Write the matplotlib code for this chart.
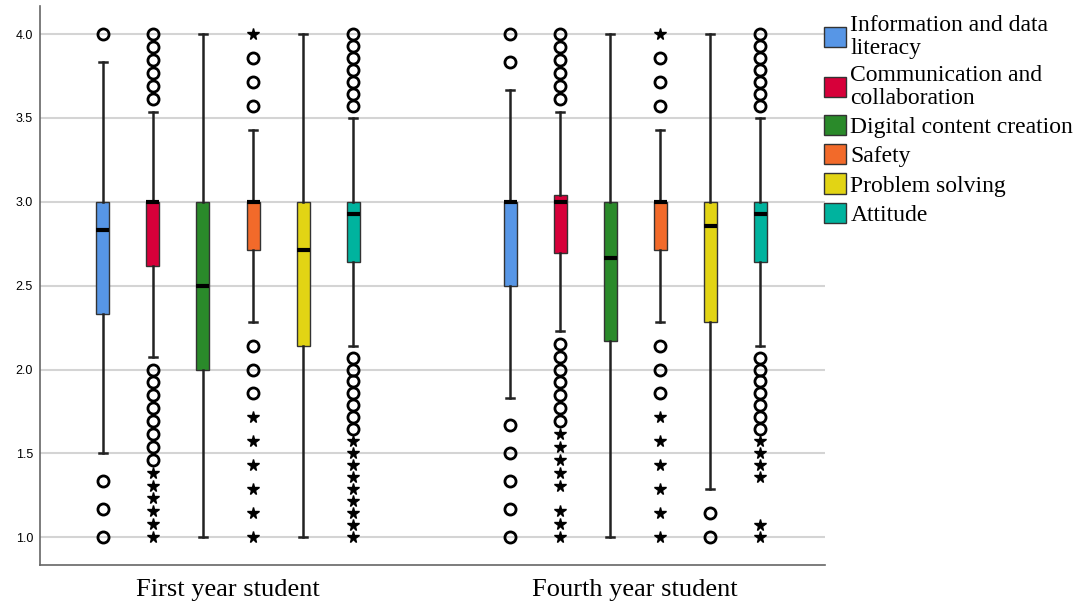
import numpy as np
import matplotlib.pyplot as plt
from matplotlib.patches import Patch

# competence areas and the two student groups
categories = ["Information and data\nliteracy", "Communication and\ncollaboration",
              "Digital content creation", "Safety", "Problem solving", "Attitude"]
groups = ["First year student", "Fourth year student"]
colors = ["#5796E6", "#D7003A", "#2A8A2A", "#F26A2A", "#E2D414", "#00B39E"]

# box statistics, first year students
first_q1 = [2.333, 2.615, 2.0, 2.714, 2.143, 2.643]
first_med = [2.833, 3.0, 2.5, 3.0, 2.714, 2.929]
first_q3 = [3.0, 3.0, 3.0, 3.0, 3.0, 3.0]
first_lo = [1.5, 2.077, 1.0, 2.286, 1.0, 2.143]
first_hi = [3.833, 3.538, 4.0, 3.429, 4.0, 3.5]
first_circles = [
    [4.0, 1.333, 1.167, 1.0],
    [4.0, 3.923, 3.846, 3.769, 3.692, 3.615,
     2.0, 1.923, 1.846, 1.769, 1.692, 1.615, 1.538, 1.462],
    [],
    [3.857, 3.714, 3.571, 2.143, 2.0, 1.857],
    [],
    [4.0, 3.929, 3.857, 3.786, 3.714, 3.643, 3.571,
     2.071, 2.0, 1.929, 1.857, 1.786, 1.714, 1.643],
]
first_stars = [
    [],
    [1.385, 1.308, 1.231, 1.154, 1.077, 1.0],
    [],
    [4.0, 1.714, 1.571, 1.429, 1.286, 1.143, 1.0],
    [],
    [1.571, 1.5, 1.429, 1.357, 1.286, 1.214, 1.143, 1.071, 1.0],
]

# box statistics, fourth year students
fourth_q1 = [2.5, 2.692, 2.167, 2.714, 2.286, 2.643]
fourth_med = [3.0, 3.0, 2.667, 3.0, 2.857, 2.929]
fourth_q3 = [3.0, 3.038, 3.0, 3.0, 3.0, 3.0]
fourth_lo = [1.833, 2.231, 1.0, 2.286, 1.286, 2.143]
fourth_hi = [3.667, 3.538, 4.0, 3.429, 4.0, 3.5]
fourth_circles = [
    [4.0, 3.833, 1.667, 1.5, 1.333, 1.167, 1.0],
    [4.0, 3.923, 3.846, 3.769, 3.692, 3.615,
     2.154, 2.077, 2.0, 1.923, 1.846, 1.769, 1.692],
    [],
    [3.857, 3.714, 3.571, 2.143, 2.0, 1.857],
    [1.143, 1.0],
    [4.0, 3.929, 3.857, 3.786, 3.714, 3.643, 3.571,
     2.071, 2.0, 1.929, 1.857, 1.786, 1.714, 1.643],
]
fourth_stars = [
    [],
    [1.615, 1.538, 1.462, 1.385, 1.308, 1.154, 1.077, 1.0],
    [],
    [4.0, 1.714, 1.571, 1.429, 1.286, 1.143, 1.0],
    [],
    [1.571, 1.5, 1.429, 1.357, 1.071, 1.0],
]

group_data = [
    (first_q1, first_med, first_q3, first_lo, first_hi, first_circles, first_stars),
    (fourth_q1, fourth_med, fourth_q3, fourth_lo, fourth_hi, fourth_circles, fourth_stars),
]

fig = plt.figure(figsize=(10.8, 6.05), dpi=100)
ax = fig.add_axes([0.037, 0.066, 0.727, 0.924])

group_gap = 8.14
box_w = 0.26
centers = []
for g, (q1, med, q3, lo, hi, circ, star) in enumerate(group_data):
    pos = [g * group_gap + i for i in range(len(categories))]
    centers.append(np.mean(pos))
    stats = []
    for i in range(len(categories)):
        stats.append(dict(q1=q1[i], med=med[i], q3=q3[i], whislo=lo[i], whishi=hi[i], fliers=[]))
    bp = ax.bxp(stats, positions=pos, widths=box_w, patch_artist=True, showfliers=False,
                boxprops=dict(edgecolor="#333333", linewidth=1.0),
                medianprops=dict(color="black", linewidth=3, solid_capstyle="butt"),
                whiskerprops=dict(color="#222222", linewidth=1.8),
                capprops=dict(color="#222222", linewidth=1.8), capwidths=0.16,
                zorder=3)
    for patch, c in zip(bp["boxes"], colors):
        patch.set_facecolor(c)
    for i in range(len(categories)):
        if circ[i]:
            ax.plot([pos[i]] * len(circ[i]), circ[i], "o", ms=8, mfc="none",
                    mec="black", mew=2, zorder=4)
        if star[i]:
            ax.plot([pos[i]] * len(star[i]), star[i], "*", ms=8.5, color="black",
                    mec="black", zorder=4)

ax.set_xlim(-1.26, 14.44)
ax.set_ylim(0.834, 4.167)
ax.set_yticks([1.0, 1.5, 2.0, 2.5, 3.0, 3.5, 4.0])
ax.set_yticklabels(["1.0", "1.5", "2.0", "2.5", "3.0", "3.5", "4.0"],
                   fontfamily="Liberation Sans", fontsize=9)
ax.set_xticks(centers)
ax.set_xticklabels(groups, fontfamily="Liberation Serif", fontsize=19)
ax.tick_params(axis="x", length=0, pad=10)
ax.tick_params(axis="y", length=0, pad=5)
ax.yaxis.grid(True, color="#d4d4d4", linewidth=1.5, zorder=0)
ax.set_axisbelow(True)
for s in ["top", "right"]:
    ax.spines[s].set_visible(False)
for s in ["left", "bottom"]:
    ax.spines[s].set_color("#666666")
    ax.spines[s].set_linewidth(1.2)

handles = [Patch(facecolor=c, edgecolor="#333333", linewidth=1.0) for c in colors]
leg = fig.legend(handles, categories, loc="upper left", bbox_to_anchor=(0.7455, 1.006),
                 frameon=False, prop={"family": "Liberation Serif", "size": 17},
                 handlelength=0.95, handleheight=0.95, handletextpad=0.17,
                 labelspacing=0.25, borderaxespad=0.4)
for t in leg.get_texts():
    t.set_linespacing(1.12)

fig.savefig("out.png", dpi=100)
